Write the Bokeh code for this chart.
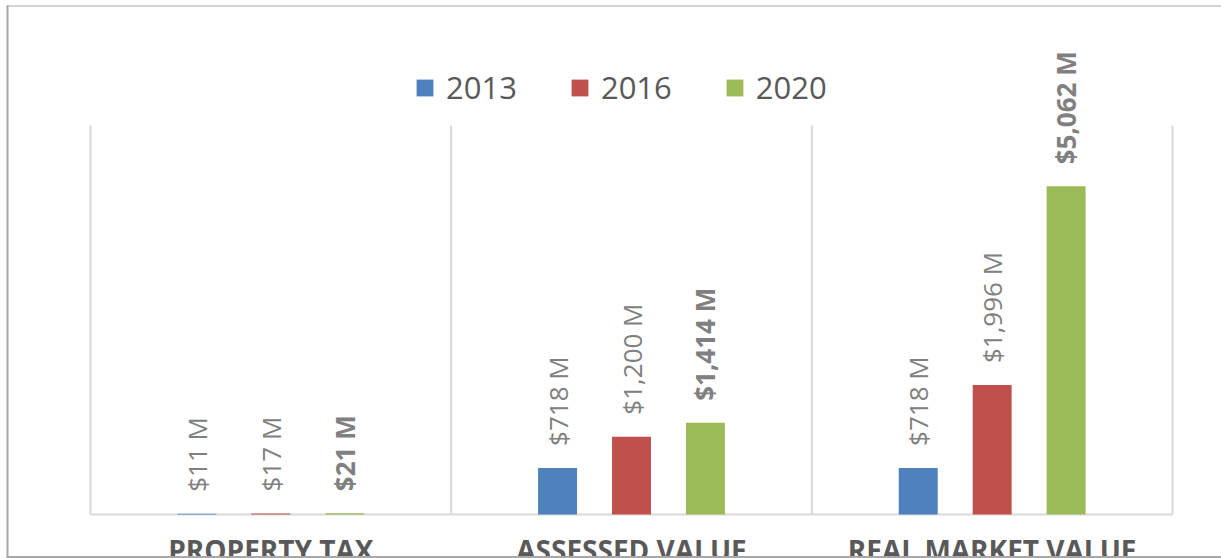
from math import pi
from bokeh.plotting import figure
from bokeh.models import ColumnDataSource, Range1d
from bokeh.transform import dodge
from bokeh.core.properties import value
from bokeh.embed import file_html
from bokeh.resources import INLINE

# ---- data ----
categories = ["PROPERTY TAX", "ASSESSED VALUE", "REAL MARKET VALUE"]
years = ["2013", "2016", "2020"]
v2013 = [11, 718, 718]
v2016 = [17, 1200, 1996]
v2020 = [21, 1414, 5062]
colors = ["#4f81bd", "#c0504d", "#9bbb59"]
Y_MAX = 6000

series = {"2013": v2013, "2016": v2016, "2020": v2020}

# ---- layout constants (canvas pixels) ----
W, H = 1221, 558
AREA_L, AREA_R, AREA_T, AREA_B = 90, 1172, 125, 514
cat_px = (AREA_R - AREA_L) / len(categories)
px_per_unit = (AREA_B - AREA_T) / Y_MAX
x_start = -0.5 - AREA_L / cat_px
x_end = len(categories) - 0.5 + (W - AREA_R) / cat_px
y_start = -(H - AREA_B) / px_per_unit
y_end = AREA_B / px_per_unit


def xd(px):
    return x_start + px / cat_px


def yd(py):
    return y_end - py / px_per_unit


p = figure(width=W, height=H,
           x_range=Range1d(x_start, x_end), y_range=Range1d(y_start, y_end),
           x_axis_type=None, y_axis_type=None,
           output_backend="svg", toolbar_location=None, min_border=0)
p.outline_line_color = None
p.background_fill_color = "white"
p.border_fill_color = "white"

idx = list(range(len(categories)))
data = dict(x=idx, cat=categories)
for yr in years:
    data["v" + yr] = series[yr]
    data["l" + yr] = [f"${v:,} M" for v in series[yr]]
src = ColumnDataSource(data)

# category separators and baseline
bounds = [i - 0.5 for i in range(len(categories) + 1)]
p.segment(x0=bounds, y0=[0] * len(bounds), x1=bounds, y1=[Y_MAX] * len(bounds),
          line_color="#d9d9d9", line_width=2)
p.segment(x0=bounds[0], y0=0, x1=bounds[-1], y1=0, line_color="#d9d9d9", line_width=2)

offsets = [-0.205, 0.0, 0.205]
for yr, col, off in zip(years, colors, offsets):
    p.vbar(x=dodge("x", off), top="v" + yr, width=0.108, bottom=0, source=src,
           fill_color=col, line_color=None, legend_label=yr)
    p.text(x=dodge("x", off), y="v" + yr, text="l" + yr, source=src,
           angle=pi / 2, text_align="left", text_baseline="middle", y_offset=-22,
           text_font=value("Open Sans"), text_font_size="26px", text_color="#808080",
           text_font_style="bold" if yr == "2020" else "normal")

p.text(x="x", y=0, text="cat", source=src, text_align="center", text_baseline="top",
       y_offset=16, text_font=value("Open Sans"), text_font_size="28px",
       text_font_style="bold", text_color="#595959")

# chart-area border (left, top, bottom)
p.segment(x0=[xd(7), xd(6), xd(6)], y0=[yd(5), yd(5.5), yd(556.5)],
          x1=[xd(7), xd(W), xd(W)], y1=[yd(557.5), yd(5.5), yd(556.5)],
          line_color="#a8a8a8", line_width=[2, 1, 2])

leg = p.legend[0]
leg.location = (414, 450)
leg.orientation = "horizontal"
leg.glyph_width = 21
leg.glyph_height = 21
leg.label_standoff = 11
leg.spacing = 52
leg.padding = 0
leg.margin = 0
leg.border_line_color = None
leg.background_fill_alpha = 0
leg.label_text_font = "Open Sans"
leg.label_text_font_size = "31px"
leg.label_text_color = "#595959"

open("out.html", "w").write(file_html(p, INLINE))
